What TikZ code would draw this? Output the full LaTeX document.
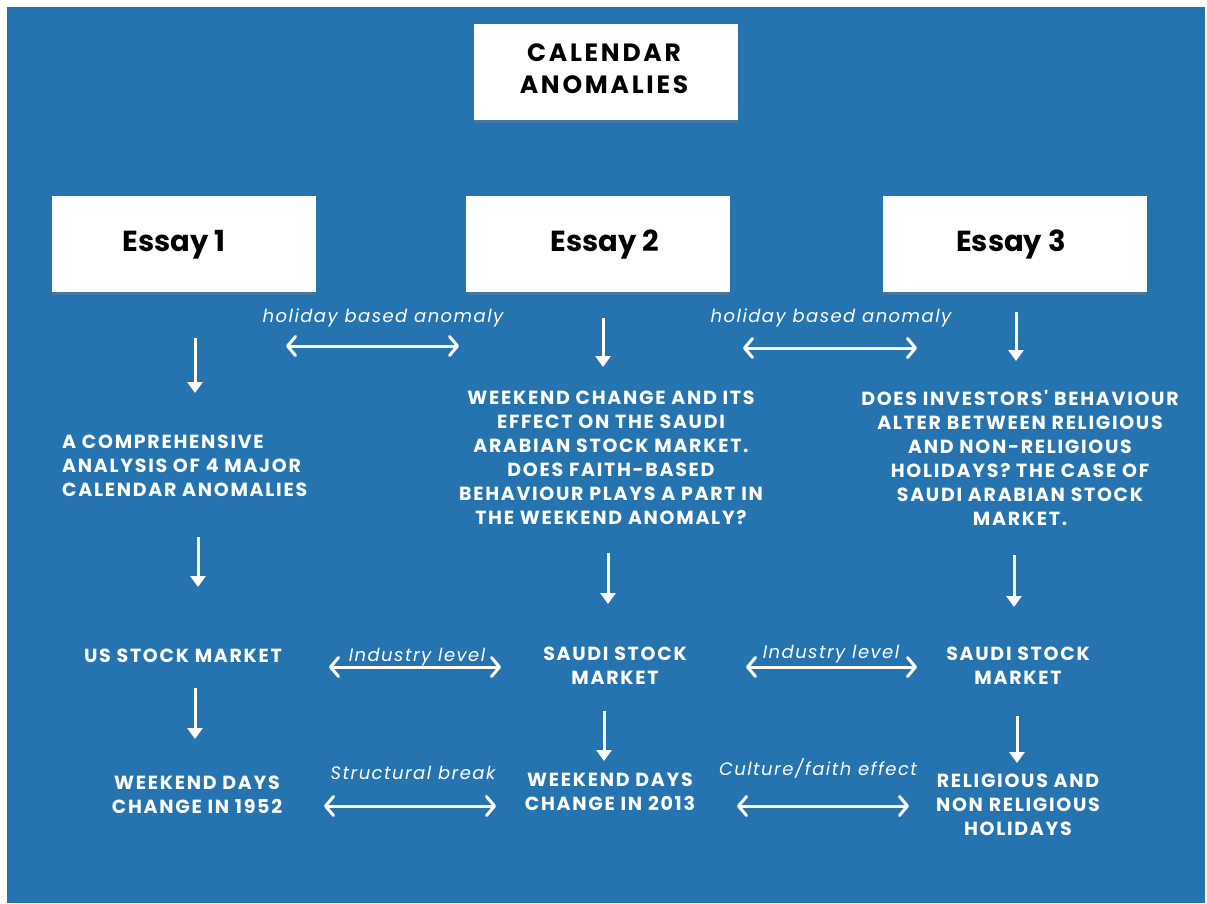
\documentclass[tikz,border=0pt]{standalone}
\usepackage{fontspec}
\setmainfont{Poppins}
\newfontfamily\lblfont{Poppins}[LetterSpace=9]
\newfontfamily\titfont{Poppins}[LetterSpace=11]
\newfontfamily\itfont{Poppins}[LetterSpace=8]
\usetikzlibrary{arrows.meta,shadows}
\definecolor{bgblue}{HTML}{2574B0}
\begin{document}
\begin{tikzpicture}[x=1pt,y=-1pt,
  wbox/.style={fill=white, minimum width=264pt, minimum height=96pt, inner sep=0pt,
     drop shadow={opacity=0.35, shadow xshift=0pt, shadow yshift=-3pt}},
  titletxt/.style={font=\titfont\bfseries\fontsize{25}{32}\selectfont, text=black, align=center},
  essaytxt/.style={font=\bfseries\fontsize{29}{32}\selectfont, text=black},
  lbl/.style={font=\lblfont\bfseries\fontsize{19}{24}\selectfont, text=white, align=center, inner sep=0pt},
  ital/.style={font=\itfont\itshape\fontsize{18}{22}\selectfont, text=white, inner sep=0pt},
  down/.style={draw=white, line width=3pt, -{Triangle[length=11pt,width=15pt]}},
  dbl/.style={draw=white, line width=3pt, line cap=round,
     {Straight Barb[length=8pt,width=19pt,round]}-{Straight Barb[length=8pt,width=19pt,round]}}
]
\useasboundingbox (0,0) rectangle (1207,903);
\fill[white] (0,0) rectangle (1207,903);
\fill[bgblue] (7,7) rectangle (1205,903);

% boxes
\node[wbox] (title) at (605.5,72) {};
\node[titletxt] (titlet) at (604,69) {CALENDAR\\ANOMALIES};
\node[wbox] (e1) at (184,244) {};
\node[essaytxt] at (174,245) {Essay 1};
\node[wbox] (e2) at (598,244) {};
\node[essaytxt] at (605,245) {Essay 2};
\node[wbox] (e3) at (1015,244) {};
\node[essaytxt] at (1011,245) {Essay 3};

% column 1
\node[lbl, align=left, anchor=west] (t1) at (62,466) {A COMPREHENSIVE\\ANALYSIS OF 4 MAJOR\\CALENDAR ANOMALIES};
\node[lbl] (us) at (183,656) {US STOCK MARKET};
\node[lbl] (w1) at (197,795) {WEEKEND DAYS\\CHANGE IN 1952};

% column 2
\node[lbl] (t2) at (611,458) {WEEKEND CHANGE AND ITS\\EFFECT ON THE SAUDI\\ARABIAN STOCK MARKET.\\DOES FAITH-BASED\\BEHAVIOUR PLAYS A PART IN\\THE WEEKEND ANOMALY?};
\node[lbl] (s2) at (615,666) {SAUDI STOCK\\MARKET};
\node[lbl] (w2) at (610,792) {WEEKEND DAYS\\CHANGE IN 2013};

% column 3
\node[lbl] (t3) at (1020,458) {DOES INVESTORS' BEHAVIOUR\\ALTER BETWEEN RELIGIOUS\\AND NON-RELIGIOUS\\HOLIDAYS? THE CASE OF\\SAUDI ARABIAN STOCK\\MARKET.};
\node[lbl] (s3) at (1018,666) {SAUDI STOCK\\MARKET};
\node[lbl] (r3) at (1018,805) {RELIGIOUS AND\\NON RELIGIOUS\\HOLIDAYS};

% italic labels
\node[ital] (h1) at (383,318) {holiday based anomaly};
\node[ital] (h2) at (831,318) {holiday based anomaly};
\node[ital] (i1) at (417,657) {Industry level};
\node[ital] (i2) at (831,654) {Industry level};
\node[ital] (sb) at (413,773) {Structural break};
\node[ital] (cf) at (818,769) {Culture/faith effect};

% arrow end points
\coordinate (a1s) at (195,338); \coordinate (a1e) at (195,393);
\coordinate (a2s) at (198,537); \coordinate (a2e) at (198,587);
\coordinate (a3s) at (195,688); \coordinate (a3e) at (195,739);
\coordinate (b1s) at (603,318); \coordinate (b1e) at (603,367);
\coordinate (b2s) at (608,553); \coordinate (b2e) at (608,604);
\coordinate (b3s) at (604,711); \coordinate (b3e) at (604,761);
\coordinate (c1s) at (1016,312); \coordinate (c1e) at (1016,361);
\coordinate (c2s) at (1014,555); \coordinate (c2e) at (1014,607);
\coordinate (c3s) at (1017,716); \coordinate (c3e) at (1017,763);

\draw[down] (a1s) -- (a1e);
\draw[down] (a2s) -- (a2e);
\draw[down] (a3s) -- (a3e);
\draw[down] (b1s) -- (b1e);
\draw[down] (b2s) -- (b2e);
\draw[down] (b3s) -- (b3e);
\draw[down] (c1s) -- (c1e);
\draw[down] (c2s) -- (c2e);
\draw[down] (c3s) -- (c3e);

% horizontal double arrows
\coordinate (d1l) at (286,346); \coordinate (d1r) at (459,346);
\coordinate (d2l) at (743,348); \coordinate (d2r) at (917,348);
\coordinate (d3l) at (329,667); \coordinate (d3r) at (501,667);
\coordinate (d4l) at (746,667); \coordinate (d4r) at (917,667);
\coordinate (d5l) at (324,806); \coordinate (d5r) at (496,806);
\coordinate (d6l) at (737,806); \coordinate (d6r) at (909,806);
\draw[dbl] (d1l) -- (d1r);
\draw[dbl] (d2l) -- (d2r);
\draw[dbl] (d3l) -- (d3r);
\draw[dbl] (d4l) -- (d4r);
\draw[dbl] (d5l) -- (d5r);
\draw[dbl] (d6l) -- (d6r);
\end{tikzpicture}
\end{document}
